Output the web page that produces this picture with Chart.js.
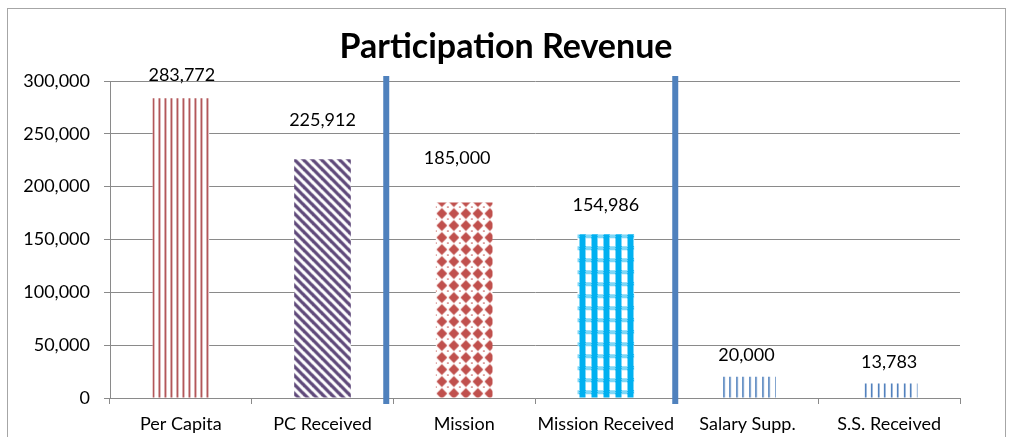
<!DOCTYPE html>
<html>
<head>
<meta charset="utf-8">
<script src="https://cdn.jsdelivr.net/npm/chart.js@4.4.1/dist/chart.umd.min.js"></script>
<style>
  html, body { margin: 0; padding: 0; background: #ffffff; }
  #wrap { position: relative; width: 1012px; height: 437px; overflow: hidden; }
  #frame { position: absolute; left: 7px; top: 8px; width: 997px; height: 460px;
           border-left: 1px solid #a6a6a6; border-top: 1px solid #a6a6a6; border-right: 1px solid #a6a6a6; }
  canvas { position: absolute; left: 0; top: 0; }
</style>
</head>
<body>
<div id="wrap">
  <div id="frame"></div>
  <canvas id="c" width="1012" height="437"></canvas>
</div>
<script>
// ---- data ----
const categories = ['Per Capita', 'PC Received', 'Mission', 'Mission Received', 'Salary Supp.', 'S.S. Received'];
const revenue = [283772, 225912, 185000, 154986, 20000, 13783];
const yTickValues = [0, 50000, 100000, 150000, 200000, 250000, 300000];
const chartTitle = 'Participation Revenue';

// ---- styles ----
const FONT = 'Lato, "Open Sans", sans-serif';
const GRID = '#8a8a8a';
const patternKinds = ['vlines', 'diag', 'diamond', 'plaid', 'vlines2', 'vlines2'];
const labelShift = [[1, 23], [0, 39], [-7, 44], [0, 29], [-1, 22], [0, 21]];
const separatorAt = [1.45, 3.49];

function makeTile(kind) {
  const c = document.createElement('canvas');
  const g = c.getContext('2d');
  if (kind === 'vlines') {
    c.width = 6; c.height = 6;
    g.fillStyle = '#fff'; g.fillRect(0, 0, 6, 6);
    g.fillStyle = '#a83f42'; g.fillRect(0, 0, 1, 6);
    g.fillStyle = 'rgba(168,63,66,0.7)'; g.fillRect(1, 0, 1, 6);
  } else if (kind === 'vlines2') {
    c.width = 13; c.height = 6;
    g.fillStyle = '#fff'; g.fillRect(0, 0, 13, 6);
    g.fillStyle = '#4a7cbb'; g.fillRect(4, 0, 1, 6); g.fillRect(10, 0, 1, 6);
    g.fillStyle = 'rgba(74,124,187,0.6)'; g.fillRect(5, 0, 1, 6); g.fillRect(11, 0, 1, 6);
  } else if (kind === 'diag') {
    const s = 9;
    c.width = s; c.height = s;
    g.fillStyle = '#fff'; g.fillRect(0, 0, s, s);
    g.strokeStyle = '#5f497a'; g.lineWidth = 3.3;
    for (const o of [-s, 0, s]) {
      g.beginPath(); g.moveTo(o - 1, -1); g.lineTo(o + s + 1, s + 1); g.stroke();
    }
  } else if (kind === 'diamond') {
    const s = 12;
    c.width = s; c.height = s;
    g.fillStyle = '#fff'; g.fillRect(0, 0, s, s);
    g.fillStyle = '#c0504d';
    for (const [cx, cy] of [[6, -1], [6, 11]]) {
      g.beginPath();
      g.moveTo(cx, cy - 5.4); g.lineTo(cx + 5.4, cy); g.lineTo(cx, cy + 5.4); g.lineTo(cx - 5.4, cy);
      g.closePath(); g.fill();
    }
    g.fillRect(0, 4, 1, 1); g.fillRect(11, 4, 1, 1);
  } else if (kind === 'plaid') {
    const s = 12;
    c.width = s; c.height = s;
    g.fillStyle = '#fff'; g.fillRect(0, 0, s, s);
    g.fillStyle = '#00b0f0';
    g.fillRect(2, 0, 6, s);
    for (let y = 0; y < 4; y++) for (let x = 0; x < s; x++) {
      if ((x + y) % 2 === 0) g.fillRect(x, y, 1, 1);
    }
  }
  return c;
}
const tiles = patternKinds.map(makeTile);

function barFill(ctx) {
  const chart = ctx.chart;
  const i = ctx.dataIndex;
  const xs = chart.scales.x, ys = chart.scales.y;
  if (ctx.type !== 'data' || !xs || !ys) return '#ffffff';
  const w = xs.width / categories.length * 0.4;
  const left = xs.getPixelForValue(i) - w / 2;
  const top = ys.getPixelForValue(revenue[i]);
  const p = chart.ctx.createPattern(tiles[i], 'repeat');
  p.setTransform(new DOMMatrix().translate(left, top));
  return p;
}

const fmt = v => v.toLocaleString('en-US');

const valueLabels = {
  id: 'valueLabels',
  afterDatasetsDraw(chart) {
    const g = chart.ctx;
    const meta = chart.getDatasetMeta(0);
    g.save();
    g.font = '18px ' + FONT;
    g.fillStyle = '#000';
    g.textAlign = 'center';
    g.textBaseline = 'middle';
    meta.data.forEach((el, i) => {
      g.fillText(fmt(revenue[i]), el.x + labelShift[i][0], el.y - labelShift[i][1]);
    });
    g.restore();
  }
};

const separators = {
  id: 'separators',
  afterDraw(chart) {
    const g = chart.ctx;
    const xs = chart.scales.x, ys = chart.scales.y;
    g.save();
    g.fillStyle = '#4f81bd';
    separatorAt.forEach(v => {
      const x = xs.getPixelForValue(v);
      const top = ys.getPixelForValue(yTickValues[yTickValues.length - 1]) - 5;
      const bottom = ys.getPixelForValue(0) + 6;
      g.fillRect(x - 3, top, 6, bottom - top);
    });
    g.restore();
  }
};

new Chart(document.getElementById('c'), {
  type: 'bar',
  data: {
    labels: categories,
    datasets: [{
      data: revenue,
      backgroundColor: barFill,
      borderWidth: 0,
      barPercentage: 0.4,
      categoryPercentage: 1.0
    }]
  },
  options: {
    responsive: false,
    animation: false,
    devicePixelRatio: 1,
    layout: { padding: { left: 0, right: 0, top: 0, bottom: 0 } },
    plugins: {
      legend: { display: false },
      tooltip: { enabled: false },
      title: {
        display: true,
        text: chartTitle,
        color: '#000',
        font: { family: FONT, size: 34, weight: 'bold', lineHeight: 1.2 },
        padding: { top: 27, bottom: 13.2 }
      }
    },
    scales: {
      x: {
        grid: { drawOnChartArea: false, drawTicks: true, tickLength: 6, color: GRID, offset: true },
        border: { color: GRID, width: 1 },
        ticks: { color: '#000', font: { family: FONT, size: 18 }, padding: 9, maxRotation: 0, autoSkip: false },
        afterFit(s) { s.height = 39; }
      },
      y: {
        min: 0,
        max: 300000,
        afterBuildTicks(s) { s.ticks = yTickValues.map(v => ({ value: v })); },
        grid: { color: GRID, tickLength: 6, drawTicks: true },
        border: { color: GRID, width: 1 },
        ticks: { color: '#000', font: { family: FONT, size: 18 }, padding: 14, callback: v => fmt(v) },
        afterFit(s) { s.width = 110; }
      },
      yRight: {
        position: 'right',
        display: true,
        grid: { display: false },
        border: { display: false },
        ticks: { display: false },
        afterFit(s) { s.width = 52; }
      }
    }
  },
  plugins: [valueLabels, separators]
});
</script>
</body>
</html>
